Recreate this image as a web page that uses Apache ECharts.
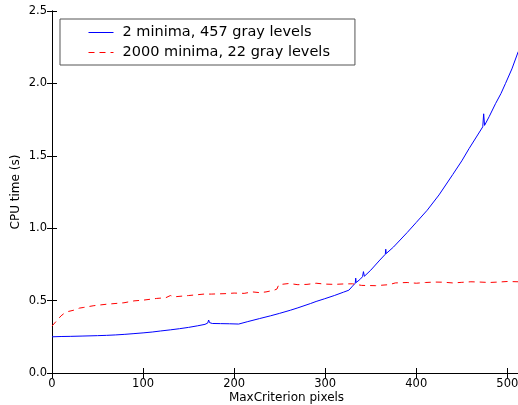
<!DOCTYPE html>
<html>
<head>
<meta charset="utf-8">
<script src="https://cdn.jsdelivr.net/npm/echarts@6/dist/echarts.min.js"></script>
<style>html,body{margin:0;padding:0;background:#fff;}#c{width:518px;height:405px;}</style>
</head>
<body>
<div id="c"></div>
<script>
const seriesNames = ["2 minima, 457 gray levels", "2000 minima, 22 gray levels"];
const xTicks = [0, 100, 200, 300, 400, 500];
const yTicks = [0.0, 0.5, 1.0, 1.5, 2.0, 2.5];

const blueX = [0, 10, 11, 12, 20, 33, 34, 35, 50, 60, 70, 80, 90, 100, 110, 119, 130, 140, 150, 160, 168, 171, 172, 173, 176, 185, 195, 205, 215, 228, 240, 250, 262, 270, 284, 290, 299, 310, 320, 326, 327, 330, 333, 333.5, 334, 338, 341, 342, 343, 350, 360, 366, 366.5, 367, 375, 390, 400, 412, 425, 440, 450, 458, 466, 473, 474, 475, 480, 487, 493, 498, 505, 512];
const blueY = [0.25, 0.252, 0.26, 0.252, 0.253, 0.255, 0.268, 0.256, 0.258, 0.26, 0.263, 0.267, 0.272, 0.277, 0.283, 0.29, 0.298, 0.306, 0.315, 0.326, 0.336, 0.345, 0.366, 0.348, 0.342, 0.341, 0.34, 0.338, 0.355, 0.376, 0.395, 0.412, 0.434, 0.45, 0.48, 0.494, 0.512, 0.535, 0.558, 0.572, 0.58, 0.6, 0.62, 0.655, 0.625, 0.645, 0.665, 0.70, 0.668, 0.71, 0.78, 0.82, 0.855, 0.825, 0.87, 0.97, 1.04, 1.124, 1.23, 1.37, 1.465, 1.55, 1.63, 1.70, 1.79, 1.71, 1.77, 1.86, 1.93, 2.0, 2.1, 2.22];

const redX = [0, 5, 10, 13, 18, 24, 30, 35, 46, 60, 79, 90, 100, 115, 125, 130, 134, 150, 167, 175, 190, 200, 211, 220, 228, 235, 244, 247, 249, 251, 260, 270, 280, 290, 300, 310, 320, 330, 340, 355, 370, 377, 390, 400, 410, 420, 430, 440, 450, 460, 470, 480, 490, 500, 512];
const redY = [0.324, 0.36, 0.395, 0.41, 0.425, 0.434, 0.448, 0.453, 0.465, 0.475, 0.485, 0.498, 0.503, 0.515, 0.52, 0.535, 0.526, 0.535, 0.545, 0.545, 0.548, 0.552, 0.55, 0.56, 0.555, 0.56, 0.572, 0.58, 0.61, 0.614, 0.618, 0.61, 0.612, 0.62, 0.614, 0.612, 0.615, 0.616, 0.605, 0.603, 0.61, 0.622, 0.625, 0.62, 0.625, 0.628, 0.627, 0.622, 0.626, 0.63, 0.628, 0.625, 0.628, 0.632, 0.63];

const toPairs = (xs, ys) => xs.map((x, i) => [x, ys[i]]);
const font = "DejaVu Sans";
const xMin = xTicks[0], xMax = 515, xInt = xTicks[1] - xTicks[0];
const yMin = yTicks[0], yMax = yTicks[yTicks.length - 1], yInt = yTicks[1] - yTicks[0];

const axisBase = {
  axisLine: {show: true, lineStyle: {color: '#000', width: 1}},
  axisTick: {show: true, inside: true, length: 5, lineStyle: {color: '#000'}},
  splitLine: {show: false}
};

const chart = echarts.init(document.getElementById('c'), null, {renderer: 'canvas'});
chart.setOption({
  animation: false,
  backgroundColor: '#fff',
  grid: {left: 52, top: 11, width: 469, height: 362, containLabel: false, outerBoundsMode: 'none'},
  legend: {
    data: seriesNames,
    orient: 'vertical',
    left: 60, top: 19,
    itemWidth: 25, itemHeight: 14, itemGap: 5,
    padding: [6, 25, 5, 28],
    borderColor: '#555', borderWidth: 1, borderRadius: 0,
    backgroundColor: '#fff',
    itemStyle: {opacity: 0},
    lineStyle: {width: 1},
    textStyle: {fontFamily: font, fontSize: 14.5, color: '#000', padding: [0, 0, 0, 4]}
  },
  xAxis: [
    Object.assign({}, axisBase, {
      type: 'value', position: 'bottom', min: xMin, max: xMax, interval: xInt,
      name: 'MaxCriterion pixels', nameLocation: 'middle', nameGap: 19, nameMoveOverlap: false,
      nameTextStyle: {fontFamily: font, fontSize: 12, color: '#000'},
      axisLabel: {fontFamily: font, fontSize: 11.5, color: '#000', margin: 5, showMaxLabel: false}
    }),
    Object.assign({}, axisBase, {
      type: 'value', position: 'top', min: xMin, max: xMax, interval: xInt,
      axisLabel: {show: false}
    })
  ],
  yAxis: [
    Object.assign({}, axisBase, {
      type: 'value', position: 'left', min: yMin, max: yMax, interval: yInt,
      name: 'CPU time (s)', nameLocation: 'middle', nameGap: 30, nameMoveOverlap: false,
      nameTextStyle: {fontFamily: font, fontSize: 12, color: '#000'},
      axisLabel: {fontFamily: font, fontSize: 11.5, color: '#000', margin: 5,
        formatter: v => v.toFixed(1)}
    }),
    Object.assign({}, axisBase, {
      type: 'value', position: 'right', min: yMin, max: yMax, interval: yInt,
      axisLabel: {show: false}
    })
  ],
  series: [
    {
      name: seriesNames[0], type: 'line', data: toPairs(blueX, blueY),
      symbol: 'none', color: '#0000ff',
      lineStyle: {color: '#0000ff', width: 1}
    },
    {
      name: seriesNames[1], type: 'line', data: toPairs(redX, redY),
      symbol: 'none', color: '#ff0000',
      lineStyle: {color: '#ff0000', width: 1, type: [6, 5]}
    }
  ]
});
</script>
</body>
</html>
